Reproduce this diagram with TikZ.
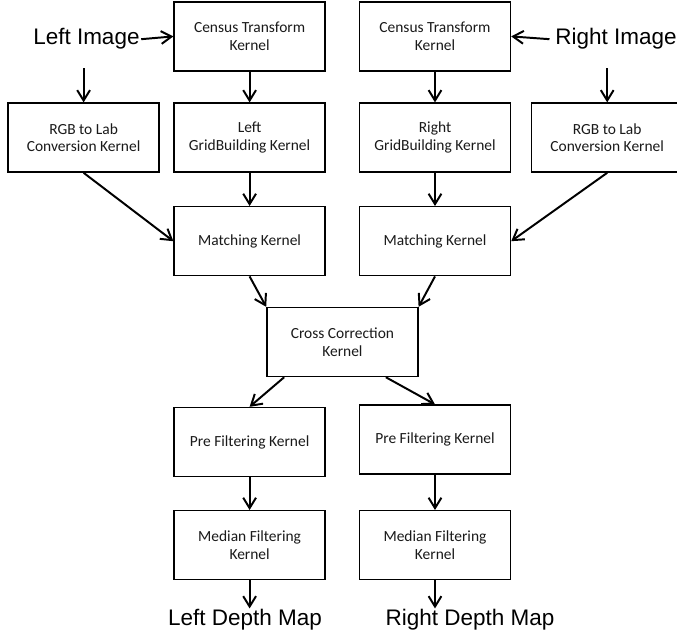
\documentclass[tikz,border=0pt]{standalone}
\usepackage{fontspec}
\setmainfont{Carlito}
\newfontfamily\labelfont{Liberation Sans}
\usepackage{xcolor}
\usepackage{tikz}
\usetikzlibrary{arrows.meta,calc}
\definecolor{ink}{HTML}{000000}
\definecolor{boxtext}{HTML}{1A1A1A}
\tikzset{
  >={Straight Barb[length=2.6mm,width=3.2mm]},
  flow/.style={->,line width=1.4pt,draw=ink},
  kernel/.style={draw=ink,line width=1pt,fill=white,align=center,
                 minimum width=3.775cm,minimum height=1.725cm,inner sep=2pt,
                 text=boxtext,font=\fontsize{11}{12.5}\selectfont},
  io/.style={inner sep=0pt,anchor=base,font=\labelfont\fontsize{16}{18}\selectfont}
}
\begin{document}
\begin{tikzpicture}[x=1cm,y=1cm]
  \useasboundingbox (0,0) rectangle (16.925,-15.85);
  % Inputs
  \node[io] (limg) at (2.16,-1.125) {Left Image};
  \node[io] (rimg) at (15.4,-1.125) {Right Image};
  % Kernels
  \node[kernel] (censusL) at (6.24,-0.91) {Census Transform\\Kernel};
  \node[kernel] (censusR) at (10.875,-0.91) {Census Transform\\Kernel};
  \node[kernel] (rgbL) at (2.09,-3.44) {RGB to Lab\\Conversion Kernel};
  \node[kernel] (gridL) at (6.24,-3.44) {Left\\GridBuilding Kernel};
  \node[kernel] (gridR) at (10.875,-3.44) {Right\\GridBuilding Kernel};
  \node[kernel] (rgbR) at (15.18,-3.44) {RGB to Lab\\Conversion Kernel};
  \node[kernel] (matchL) at (6.24,-6.03) {Matching Kernel};
  \node[kernel] (matchR) at (10.875,-6.03) {Matching Kernel};
  \node[kernel] (cross) at (8.56,-8.55) {Cross Correction\\Kernel};
  \node[kernel] (preL) at (6.24,-11.05) {Pre Filtering Kernel};
  \node[kernel] (preR) at (10.875,-10.99) {Pre Filtering Kernel};
  \node[kernel] (medL) at (6.24,-13.63) {Median Filtering\\Kernel};
  \node[kernel] (medR) at (10.875,-13.63) {Median Filtering\\Kernel};
  % Outputs
  \node[io] (ldepth) at (6.125,-15.625) {Left Depth Map};
  \node[io] (rdepth) at (11.75,-15.625) {Right Depth Map};

  \draw[flow] ([xshift=1pt]limg.east)--(censusL.west);
  \draw[flow] ([xshift=-4pt]rimg.west)--(censusR.east);
  \draw[flow] ($(rgbL.north)+(0,0.85)$)--(rgbL.north);
  \draw[flow] ($(rgbR.north)+(0,0.85)$)--(rgbR.north);
  \draw[flow] (censusL)--(gridL);
  \draw[flow] (censusR)--(gridR);
  \draw[flow] (gridL)--(matchL);
  \draw[flow] (gridR)--(matchR);
  \draw[flow] (rgbL.south)--(matchL.west);
  \draw[flow] (rgbR.south)--(matchR.east);
  \draw[flow] (matchL.south)--(cross.north west);
  \draw[flow] (matchR.south)--(cross.north east);
  \draw[flow] ($(cross.south west)+(0.45,0)$)--(preL.north);
  \draw[flow] ($(cross.south east)+(-0.82,0)$)--(preR.north);
  \draw[flow] (preL)--(medL);
  \draw[flow] (preR)--(medR);
  \draw[flow] (medL.south)--(medL.south |- ldepth.north);
  \draw[flow] (medR.south)--(medR.south |- rdepth.north);
\end{tikzpicture}
\end{document}
